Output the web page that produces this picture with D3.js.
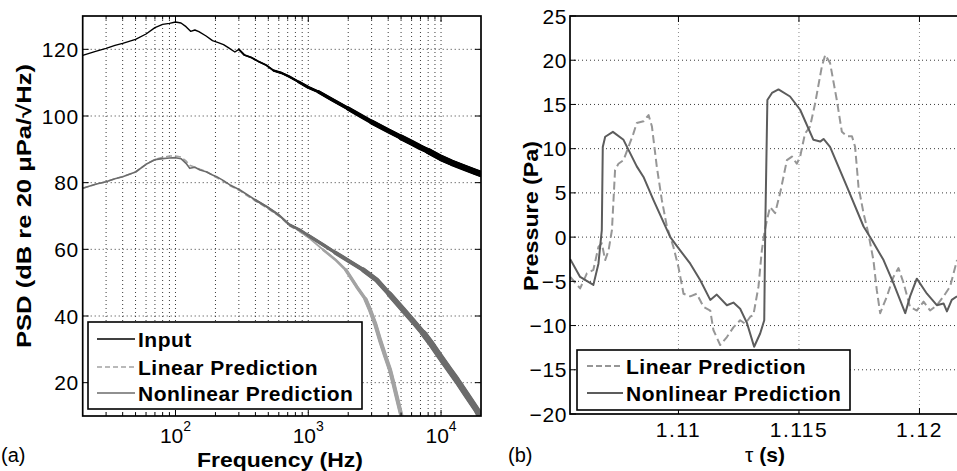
<!DOCTYPE html>
<html><head><meta charset="utf-8">
<script src="https://cdn.jsdelivr.net/npm/d3@7"></script>
<style>
body{margin:0;overflow:hidden;background:#fff}
text{font-family:"Liberation Sans",Arial,Helvetica,sans-serif;fill:#000}
</style></head>
<body><svg id="c" width="957" height="471"></svg>
<script>
// ---------- Panel (a) data: PSD vs frequency ----------
const freqInput = [20,25,30,35,40,50,60,70,80,90,100,110,120,130,140,150,170,190,210,230,250,280,300,330,370,420,480,550,630,720,850,1000,1200,1500,2000,2500,3000,4000,5000,6000,7000,8000,10000,12000,15000,18000,20000];
const psdInput  = [118.2,119.4,120.3,121.2,121.8,123.0,124.6,126.5,127.5,127.8,128.2,127.9,126.8,125.4,125.8,125.3,124.0,122.6,122.0,121.4,120.5,119.2,120.0,118.3,117.6,116.4,115.3,113.6,112.9,111.8,110.2,108.6,107.2,105.0,102.2,100.0,98.2,95.6,93.6,92.0,90.6,89.5,87.4,86.0,84.5,83.3,82.6];

const freqNonlinear = [20,25,30,35,40,50,60,70,80,90,100,110,120,128,140,153,170,190,204,230,260,306,350,400,486,600,728,866,1000,1300,1600,2060,2600,3275,4100,5200,6200,7360,8500,9840,11500,13130,15500,18600,20000];
const psdNonlinear  = [78.3,79.5,80.3,81.2,81.8,83.2,85.5,86.9,87.2,87.4,87.5,87.2,85.8,84.3,84.6,83.8,83.3,82.3,81.8,80.6,79.2,77.8,76.3,74.8,72.8,70.3,67.3,65.8,64.2,61.3,59.0,56.3,53.8,50.8,46.5,41.8,38.3,34.8,31.5,27.8,24.0,20.8,16.5,11.8,9.5];

const freqLinear = [20,25,30,35,40,50,60,70,80,90,100,110,120,128,140,153,170,190,204,230,260,306,350,400,486,600,728,866,1000,1300,1600,1920,2317,2700,2920,3200,3470,3800,4130,4400,4635,5010,5300];
const psdLinear  = [78.3,79.5,80.3,81.2,81.8,83.2,85.5,87.0,87.6,88.0,88.0,87.7,86.5,85.2,84.6,84.0,83.4,82.2,81.5,80.4,79.0,77.6,76.0,74.5,72.5,70.0,67.0,65.3,63.6,59.8,56.9,53.8,48.8,45.0,41.8,37.5,32.8,28.0,23.8,19.5,15.8,10.3,6.0];

const psdTicks  = [20,40,60,80,100,120];
const freqTicks = [100,1000,10000];
const freqTickExp = ["2","3","4"];
const legendA = ["Input","Linear Prediction","Nonlinear Prediction"];

// ---------- Panel (b) data: pressure vs tau ----------
const tauNonlinear = [1.10551,1.10592,1.10647,1.10668,1.10682,1.10686,1.10696,1.10728,1.10772,1.10827,1.10855,1.10896,1.10966,1.11007,1.11049,1.11090,1.11132,1.11159,1.11201,1.11228,1.11256,1.11284,1.11314,1.11339,1.11356,1.11360,1.11369,1.11388,1.11415,1.11463,1.11505,1.11560,1.11588,1.11602,1.11629,1.11699,1.11768,1.11802,1.11851,1.11892,1.11941,1.11961,1.11989,1.12031,1.12072,1.12100,1.12114,1.12134,1.12156];
const presNonlinear = [-2.5,-4.5,-5.4,-3.0,0.8,10.2,11.35,11.9,11.0,8.0,6.8,4.2,0.0,-1.5,-3.0,-4.85,-7.1,-6.5,-7.7,-7.4,-8.1,-9.7,-12.4,-10.9,-9.4,0.8,15.5,16.3,16.7,15.9,14.4,11.0,10.8,11.1,10.2,5.7,1.2,-0.3,-2.6,-5.2,-8.6,-6.7,-4.7,-6.4,-7.7,-7.5,-8.4,-7.1,-6.7];

const tauLinear = [1.10551,1.10592,1.10620,1.10647,1.10668,1.10682,1.10696,1.10710,1.10724,1.10737,1.10751,1.10772,1.10813,1.10827,1.10855,1.10876,1.10890,1.10910,1.10931,1.10952,1.10979,1.11000,1.11021,1.11049,1.11076,1.11104,1.11132,1.11145,1.11173,1.11201,1.11228,1.11256,1.11277,1.11298,1.11311,1.11332,1.11346,1.11356,1.11367,1.11380,1.11401,1.11422,1.11450,1.11471,1.11491,1.11505,1.11525,1.11546,1.11567,1.11595,1.11609,1.11629,1.11657,1.11678,1.11699,1.11720,1.11733,1.11747,1.11768,1.11788,1.11809,1.11823,1.11837,1.11865,1.11892,1.11913,1.11934,1.11961,1.11989,1.12017,1.12044,1.12072,1.12100,1.12127,1.12156];
const presLinear = [-4.5,-5.8,-4.1,-3.7,-1.1,-0.7,-2.6,-1.5,0.8,7.6,8.3,8.7,11.7,12.9,13.1,13.8,12.5,8.0,4.2,1.2,-1.1,-3.4,-6.4,-6.7,-6.4,-7.9,-8.3,-10.5,-12.2,-11.3,-10.2,-9.4,-9.8,-9.0,-8.8,-5.6,-1.5,0.4,1.9,3.4,2.7,5.0,8.7,9.1,8.3,9.1,11.7,12.5,15.1,19.3,20.6,19.7,15.5,11.9,11.4,11.4,10.2,5.7,2.7,0.4,-2.6,-6.0,-8.6,-6.7,-4.5,-3.5,-5.2,-7.9,-8.3,-7.3,-8.3,-7.7,-6.7,-5.6,-2.6];

const presTicks = [-20,-15,-10,-5,0,5,10,15,20,25];
const tauTicks  = [1.11,1.115,1.12];
const legendB = ["Linear Prediction","Nonlinear Prediction"];

// ---------- styles ----------
const COL_INPUT = "#000", COL_LIN_A = "#a3a3a3", COL_NON_A = "#6b6b6b";
const COL_LIN_B = "#969696", COL_NON_B = "#5c5c5c";
const GRID = {stroke:"#3a3a3a", dash:"1,3", w:1};
const svg = d3.select("#c");
const fmtMinus = v => String(v).replace("-", "\u2212");

function grid(g, lines, color){
  g.selectAll(null).data(lines).join("line")
   .attr("x1",d=>d[0]).attr("y1",d=>d[1]).attr("x2",d=>d[2]).attr("y2",d=>d[3])
   .attr("stroke",color||GRID.stroke).attr("stroke-width",GRID.w).attr("stroke-dasharray",GRID.dash);
}

// ================= Panel (a) =================
const A = {x0:82.7, x1:481, y0:16, y1:416};
const xa = d3.scaleLog().domain([20,20000]).range([A.x0,A.x1]);
const ya = d3.scaleLinear().domain([10,130]).range([A.y1,A.y0]);
const ga = svg.append("g");
svg.append("clipPath").attr("id","clipA").append("rect")
  .attr("x",A.x0).attr("y",A.y0).attr("width",A.x1-A.x0).attr("height",A.y1-A.y0);

const minorA = xa.ticks().filter(v=>v>20 && v<20000);
grid(ga, minorA.map(v=>[xa(v),A.y0,xa(v),A.y1]));
grid(ga, psdTicks.map(v=>[A.x0,ya(v),A.x1,ya(v)]));

const lineA = d3.line().x(d=>xa(d[0])).y(d=>ya(d[1]));
const zipA = (f,p)=>f.map((v,i)=>[v,p[i]]);
const dIn = zipA(freqInput,psdInput), dLin = zipA(freqLinear,psdLinear), dNon = zipA(freqNonlinear,psdNonlinear);
const pa = ga.append("g").attr("clip-path","url(#clipA)").attr("stroke-linejoin","round").attr("stroke-linecap","round");
// draws a line whose stroke widens toward high frequency (noise spread of the measured spectrum)
function ramp(data, color, stops){
  stops.forEach(([fmin,w])=>{
    const sub = data.filter(d=>d[0]>=fmin);
    if(sub.length>1) pa.append("path").attr("d",lineA(sub)).attr("fill","none").attr("stroke",color).attr("stroke-width",w);
  });
}
// linear (light, dashed at low frequency)
pa.append("path").attr("d",lineA(dLin.filter(d=>d[0]<=1000))).attr("fill","none")
  .attr("stroke",COL_LIN_A).attr("stroke-width",1.6).attr("stroke-dasharray","6,3").attr("stroke-linecap","butt");
ramp(dLin, COL_LIN_A, [[866,1.8],[1300,2.6],[1920,3.4],[2700,4.2]]);
// nonlinear
ramp(dNon, COL_NON_A, [[20,1.6],[400,2.2],[728,2.8],[1000,3.4],[1600,4.2],[2600,5.0],[4100,5.8],[7360,6.6]]);
// input
ramp(dIn, COL_INPUT, [[20,1.4],[300,1.8],[550,2.4],[850,3.0],[1200,3.6],[2000,4.4],[3000,5.0],[5000,5.8],[8000,6.4]]);

// frame + ticks
ga.append("rect").attr("x",A.x0).attr("y",A.y0).attr("width",A.x1-A.x0).attr("height",A.y1-A.y0)
  .attr("fill","none").attr("stroke","#000").attr("stroke-width",1.7);
const tickA = ga.append("g").attr("stroke","#000").attr("stroke-width",1);
minorA.forEach(v=>{
  const L = freqTicks.includes(v)?6:3.5;
  tickA.append("line").attr("x1",xa(v)).attr("x2",xa(v)).attr("y1",A.y1).attr("y2",A.y1-L);
  tickA.append("line").attr("x1",xa(v)).attr("x2",xa(v)).attr("y1",A.y0).attr("y2",A.y0+L);
});
psdTicks.forEach(v=>{
  tickA.append("line").attr("x1",A.x0).attr("x2",A.x0+6).attr("y1",ya(v)).attr("y2",ya(v));
  tickA.append("line").attr("x1",A.x1).attr("x2",A.x1-6).attr("y1",ya(v)).attr("y2",ya(v));
});
ga.selectAll(null).data(psdTicks).join("text").attr("x",A.x0-4).attr("y",d=>ya(d)+7.5)
  .attr("text-anchor","end").attr("font-size",21).attr("letter-spacing",0.6).text(d=>d);
const xl = ga.selectAll(null).data(freqTicks).join("text").attr("x",d=>xa(d)).attr("y",443)
  .attr("text-anchor","middle").attr("font-size",21);
xl.append("tspan").text("10");
xl.append("tspan").attr("dy",-12).attr("font-size",14).text((d,i)=>freqTickExp[i]);

ga.append("text").attr("x",280).attr("y",467).attr("text-anchor","middle").attr("font-size",21)
  .attr("font-weight","bold").attr("textLength",166).attr("lengthAdjust","spacingAndGlyphs").text("Frequency (Hz)");
ga.append("text").attr("transform","translate(31,206) rotate(-90)").attr("text-anchor","middle")
  .attr("font-size",20).attr("font-weight","bold").attr("textLength",284).attr("lengthAdjust","spacingAndGlyphs")
  .text("PSD (dB re 20 \u03bcPa/\u221aHz)");
ga.append("text").attr("x",1).attr("y",462).attr("font-size",20).text("(a)");

// legend a
const LA = {x:88, y:322, w:274, h:87, rows:[339,367,393]};
ga.append("rect").attr("x",LA.x).attr("y",LA.y).attr("width",LA.w).attr("height",LA.h)
  .attr("fill","#fff").attr("stroke","#000").attr("stroke-width",1.6);
const legStyleA = [{c:COL_INPUT,d:null},{c:COL_LIN_A,d:"5,3"},{c:COL_NON_A,d:null}];
legendA.forEach((t,i)=>{
  ga.append("line").attr("x1",97).attr("x2",135).attr("y1",LA.rows[i]).attr("y2",LA.rows[i])
    .attr("stroke",legStyleA[i].c).attr("stroke-width",1.6).attr("stroke-dasharray",legStyleA[i].d);
  ga.append("text").attr("x",138).attr("y",LA.rows[i]+7.5).attr("font-size",21).attr("font-weight","bold")
    .attr("letter-spacing",0.5).text(t);
});

// ================= Panel (b) =================
const B = {x0:570, x1:972, y0:16, y1:414};
const xb = d3.scaleLinear().domain([1.1055,1.12218]).range([B.x0,B.x1]);
const yb = d3.scaleLinear().domain([-20,25]).range([B.y1,B.y0]);
const gb = svg.append("g");
svg.append("clipPath").attr("id","clipB").append("rect")
  .attr("x",B.x0).attr("y",B.y0).attr("width",B.x1-B.x0).attr("height",B.y1-B.y0);
grid(gb, tauTicks.map(v=>[xb(v),B.y0,xb(v),B.y1]), "#8a8a8a");
grid(gb, presTicks.filter(v=>v>-20&&v<25).map(v=>[B.x0,yb(v),B.x1,yb(v)]));

const lineB = d3.line().x(d=>xb(d[0])).y(d=>yb(d[1]));
const pb = gb.append("g").attr("clip-path","url(#clipB)").attr("stroke-linejoin","round");
pb.append("path").attr("d",lineB(tauLinear.map((t,i)=>[t,presLinear[i]]))).attr("fill","none")
  .attr("stroke",COL_LIN_B).attr("stroke-width",2).attr("stroke-dasharray","8,4");
pb.append("path").attr("d",lineB(tauNonlinear.map((t,i)=>[t,presNonlinear[i]]))).attr("fill","none")
  .attr("stroke",COL_NON_B).attr("stroke-width",2);

gb.append("rect").attr("x",B.x0).attr("y",B.y0).attr("width",B.x1-B.x0).attr("height",B.y1-B.y0)
  .attr("fill","none").attr("stroke","#000").attr("stroke-width",1.7);
const tickB = gb.append("g").attr("stroke","#000").attr("stroke-width",1);
tauTicks.forEach(v=>{
  tickB.append("line").attr("x1",xb(v)).attr("x2",xb(v)).attr("y1",B.y1).attr("y2",B.y1-6);
  tickB.append("line").attr("x1",xb(v)).attr("x2",xb(v)).attr("y1",B.y0).attr("y2",B.y0+6);
});
presTicks.forEach(v=>{
  tickB.append("line").attr("x1",B.x0).attr("x2",B.x0+6).attr("y1",yb(v)).attr("y2",yb(v));
});
gb.selectAll(null).data(presTicks).join("text").attr("x",B.x0-3).attr("y",d=>yb(d)+7.5)
  .attr("text-anchor","end").attr("font-size",21).attr("letter-spacing",0.6).text(d=>fmtMinus(d));
gb.selectAll(null).data(tauTicks).join("text").attr("x",d=>xb(d)).attr("y",437)
  .attr("text-anchor","middle").attr("font-size",21).attr("letter-spacing",1.5).text(d=>d);

const tl = gb.append("text").attr("x",765).attr("y",462).attr("text-anchor","middle").attr("font-size",21);
tl.append("tspan").text("\u03c4 ");
tl.append("tspan").attr("font-weight","bold").text("(s)");
gb.append("text").attr("transform","translate(538,216) rotate(-90)").attr("text-anchor","middle")
  .attr("font-size",20).attr("font-weight","bold").attr("textLength",150).attr("lengthAdjust","spacingAndGlyphs")
  .text("Pressure (Pa)");
gb.append("text").attr("x",508).attr("y",462).attr("font-size",20).text("(b)");

const LB = {x:577, y:350, w:273, h:60, rows:[366,393]};
gb.append("rect").attr("x",LB.x).attr("y",LB.y).attr("width",LB.w).attr("height",LB.h)
  .attr("fill","#fff").attr("stroke","#000").attr("stroke-width",1.6);
const legStyleB = [{c:COL_LIN_B,d:"6,3"},{c:COL_NON_B,d:null}];
legendB.forEach((t,i)=>{
  gb.append("line").attr("x1",587).attr("x2",623).attr("y1",LB.rows[i]).attr("y2",LB.rows[i])
    .attr("stroke",legStyleB[i].c).attr("stroke-width",1.8).attr("stroke-dasharray",legStyleB[i].d);
  gb.append("text").attr("x",626).attr("y",LB.rows[i]+7.5).attr("font-size",21).attr("font-weight","bold")
    .attr("letter-spacing",0.5).text(t);
});
</script></body></html>
